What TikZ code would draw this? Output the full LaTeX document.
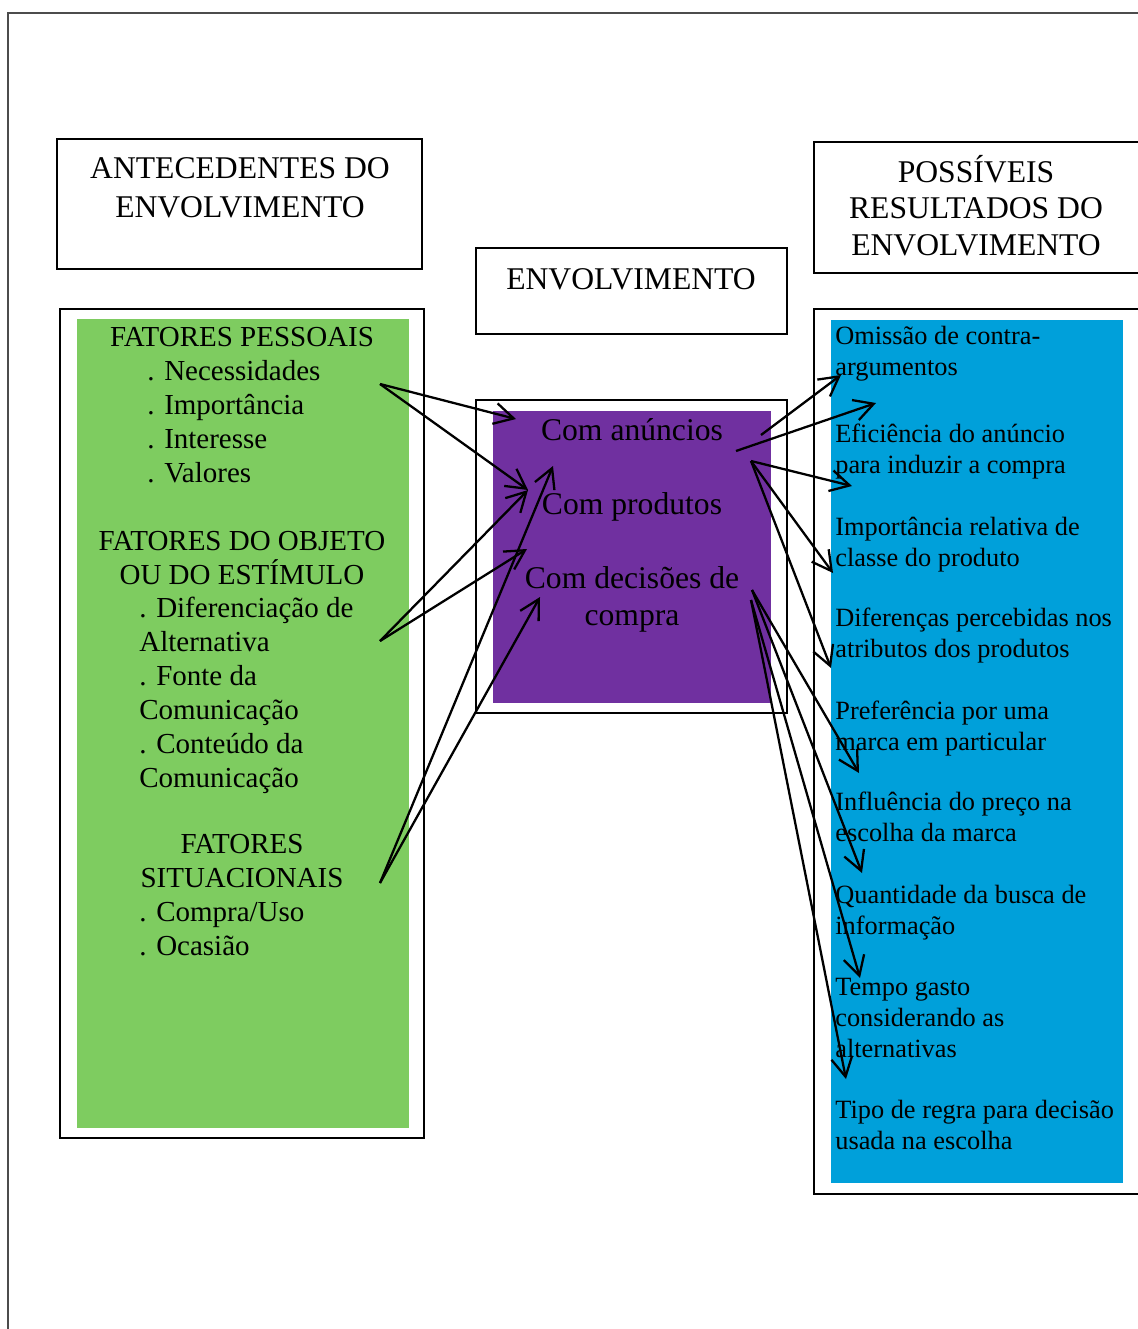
\documentclass[tikz,border=0pt]{standalone}
\usepackage{fontspec}
\setmainfont{Liberation Serif}
\usetikzlibrary{arrows.meta}
\definecolor{verde}{RGB}{126,204,96}
\definecolor{roxo}{RGB}{112,48,160}
\definecolor{azul}{RGB}{0,160,218}
\tikzset{
  caixa/.style={draw, line width=1.2pt},
  seta/.style={line width=1.3pt, -{Straight Barb[length=11pt,width=12pt]}},
  titulo/.style={align=center, inner sep=0pt, anchor=base, font=\fontsize{18}{22.2}\selectfont},
  fator/.style={align=center, inner sep=0pt, anchor=base, font=\fontsize{16.5}{19.35}\selectfont},
  item/.style={align=left, inner sep=0pt, anchor=base west, font=\fontsize{16.5}{19.35}\selectfont},
  meio/.style={align=center, inner sep=0pt, anchor=base, font=\fontsize{18}{21}\selectfont},
  result/.style={align=left, inner sep=0pt, anchor=base west, font=\fontsize{15}{17.6}\selectfont}
}
\begin{document}
\begin{tikzpicture}[x = 0.02cm, y = -0.02cm]
  \useasboundingbox (0,0) rectangle (1137,1329);
  % Page frame
  \draw[black!70, line width=1.5pt] (1145,13) -- (8,13) -- (8,1340);

  % Boxes
  \draw[caixa] (57,139) rectangle (422,269);
  \draw[caixa] (476,248) rectangle (787,334);
  \draw[caixa] (814,142) rectangle (1145,273);
  \draw[caixa] (60,309) rectangle (424,1138);
  \fill[verde] (77,319) rectangle (409,1128);
  \draw[caixa] (476,400) rectangle (787,713);
  \fill[roxo] (493,411) rectangle (771,703);
  \draw[caixa] (814,309) rectangle (1145,1194);
  \fill[azul] (831,320) rectangle (1123,1183);

  % Titles (base = last line)
  \node[titulo] (antecedentes) at (240,217) {ANTECEDENTES DO\\ENVOLVIMENTO};
  \node[titulo] (envolvimento) at (631,289) {ENVOLVIMENTO};
  \node[titulo, font=\fontsize{18}{20.5}\selectfont] (resultados) at (976,255) {POSSÍVEIS\\RESULTADOS DO\\ENVOLVIMENTO};

  % Antecedents
  \node[fator] (pessoais) at (242,346) {FATORES PESSOAIS};
  \node[item] (pessoaisitens) at (147,482) {. Necessidades\\. Importância\\. Interesse\\. Valores};
  \node[fator] (objeto) at (242,584) {FATORES DO OBJETO\\OU DO ESTÍMULO};
  \node[item] (objetoitens) at (139,787) {. Diferenciação de\\Alternativa\\. Fonte da\\Comunicação\\. Conteúdo da\\Comunicação};
  \node[fator] (situacionais) at (242,887) {FATORES\\SITUACIONAIS};
  \node[item] (situacionaisitens) at (139,955) {. Compra/Uso\\. Ocasião};

  % Involvement
  \node[meio] (anuncios) at (632,440) {Com anúncios};
  \node[meio] (produtos) at (632,514) {Com produtos};
  \node[meio] (decisoes) at (632,625) {Com decisões de\\compra};

  % Results
  \node[result] (omissao) at (835,375) {Omissão de contra-\\argumentos};
  \node[result] (eficiencia) at (835,473) {Eficiência do anúncio\\para induzir a compra};
  \node[result] (importancia) at (835,566) {Importância relativa de\\classe do produto};
  \node[result] (diferencas) at (835,657) {Diferenças percebidas nos\\atributos dos produtos};
  \node[result] (preferencia) at (835,750) {Preferência por uma\\marca em particular};
  \node[result] (influencia) at (835,841) {Influência do preço na\\escolha da marca};
  \node[result] (quantidade) at (835,934) {Quantidade da busca de\\informação};
  \node[result] (tempo) at (835,1057) {Tempo gasto\\considerando as\\alternativas};
  \node[result] (regra) at (835,1149) {Tipo de regra para decisão\\usada na escolha};

  % Arrow ends
  \coordinate (a1) at (380,384);
  \coordinate (a2) at (380,641);
  \coordinate (a3) at (380,883);
  \coordinate (m1) at (516,419);
  \coordinate (m2) at (528,490);
  \coordinate (m3) at (527,549);
  \coordinate (m4) at (553,466);
  \coordinate (m5) at (540,597);
  \coordinate (b1) at (761,435);
  \coordinate (b2) at (736,451);
  \coordinate (b3) at (751,461);
  \coordinate (b4) at (752,590);
  \coordinate (b5) at (751,600);
  \coordinate (r1) at (841,375);
  \coordinate (r2) at (876,403);
  \coordinate (r3) at (852,486);
  \coordinate (r4) at (833,573);
  \coordinate (r5) at (831,668);
  \coordinate (r6) at (859,773);
  \coordinate (r7) at (862,873);
  \coordinate (r8) at (860,978);
  \coordinate (r9) at (846,1079);

  % Arrows
  \draw[seta] (a1) -- (m1);
  \draw[seta] (a1) -- (m2);
  \draw[seta] (a2) -- (m2);
  \draw[seta] (a2) -- (m3);
  \draw[seta] (a3) -- (m4);
  \draw[seta] (a3) -- (m5);
  \draw[seta] (b1) -- (r1);
  \draw[seta] (b2) -- (r2);
  \draw[seta] (b3) -- (r3);
  \draw[seta] (b3) -- (r4);
  \draw[seta] (b3) -- (r5);
  \draw[seta] (b4) -- (r6);
  \draw[seta] (b4) -- (r7);
  \draw[seta] (b5) -- (r8);
  \draw[seta] (b5) -- (r9);
\end{tikzpicture}
\end{document}
